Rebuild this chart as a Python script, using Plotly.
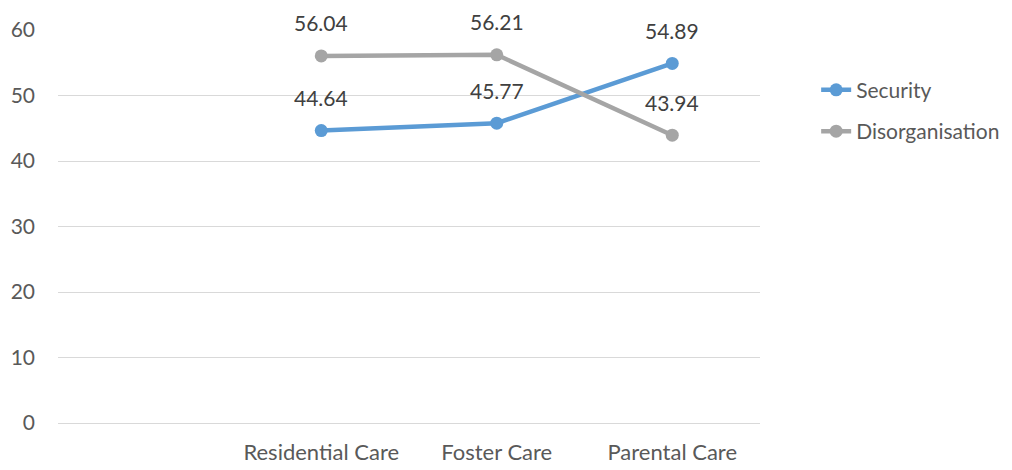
import plotly.graph_objects as go

categories = ["", "Residential Care", "Foster Care", "Parental Care"]
security = [None, 44.64, 45.77, 54.89]
disorganisation = [None, 56.04, 56.21, 43.94]
y_ticks = [0, 10, 20, 30, 40, 50, 60]

BLUE = "#5B9BD5"
GRAY = "#A5A5A5"
FONT = "Lato"

xpos = list(range(len(categories)))

fig = go.Figure()
for name, vals, col, grp in [("Security", security, BLUE, "a"),
                             ("Disorganisation", disorganisation, GRAY, "b")]:
    fig.add_trace(go.Scatter(
        x=xpos, y=vals, name=name, mode="lines+markers",
        line=dict(color=col, width=4.5),
        marker=dict(color=col, size=13),
        legendgroup=grp,
    ))
    for xi, v in zip(xpos, vals):
        if v is None:
            continue
        fig.add_annotation(x=xi, y=v, text=f"{v:.2f}", showarrow=False,
                           yshift=33, font=dict(family=FONT, size=21, color="#404040"))

fig.update_layout(
    width=1012, height=470,
    margin=dict(l=50, r=260, t=22, b=55),
    paper_bgcolor="white", plot_bgcolor="white",
    font=dict(family=FONT, size=21, color="#595959"),
    showlegend=True,
    legend=dict(x=1.08, xanchor="left", y=0.899, yanchor="top",
                traceorder="grouped", tracegroupgap=11,
                font=dict(family=FONT, size=21, color="#595959")),
    xaxis=dict(range=[-0.5, len(categories) - 0.5], tickvals=xpos, ticktext=categories,
               showgrid=False, zeroline=False, showline=False, ticks="",
               ticklabelstandoff=14, tickfont=dict(size=22), automargin=False),
    yaxis=dict(range=[0, 60], tickvals=y_ticks, showgrid=True, gridcolor="#D9D9D9",
               gridwidth=1.3, zeroline=True, zerolinecolor="#D9D9D9", zerolinewidth=1.3,
               ticks="", ticklabelstandoff=22, tickfont=dict(size=21), automargin=False),
)

fig.write_html("out.html")
